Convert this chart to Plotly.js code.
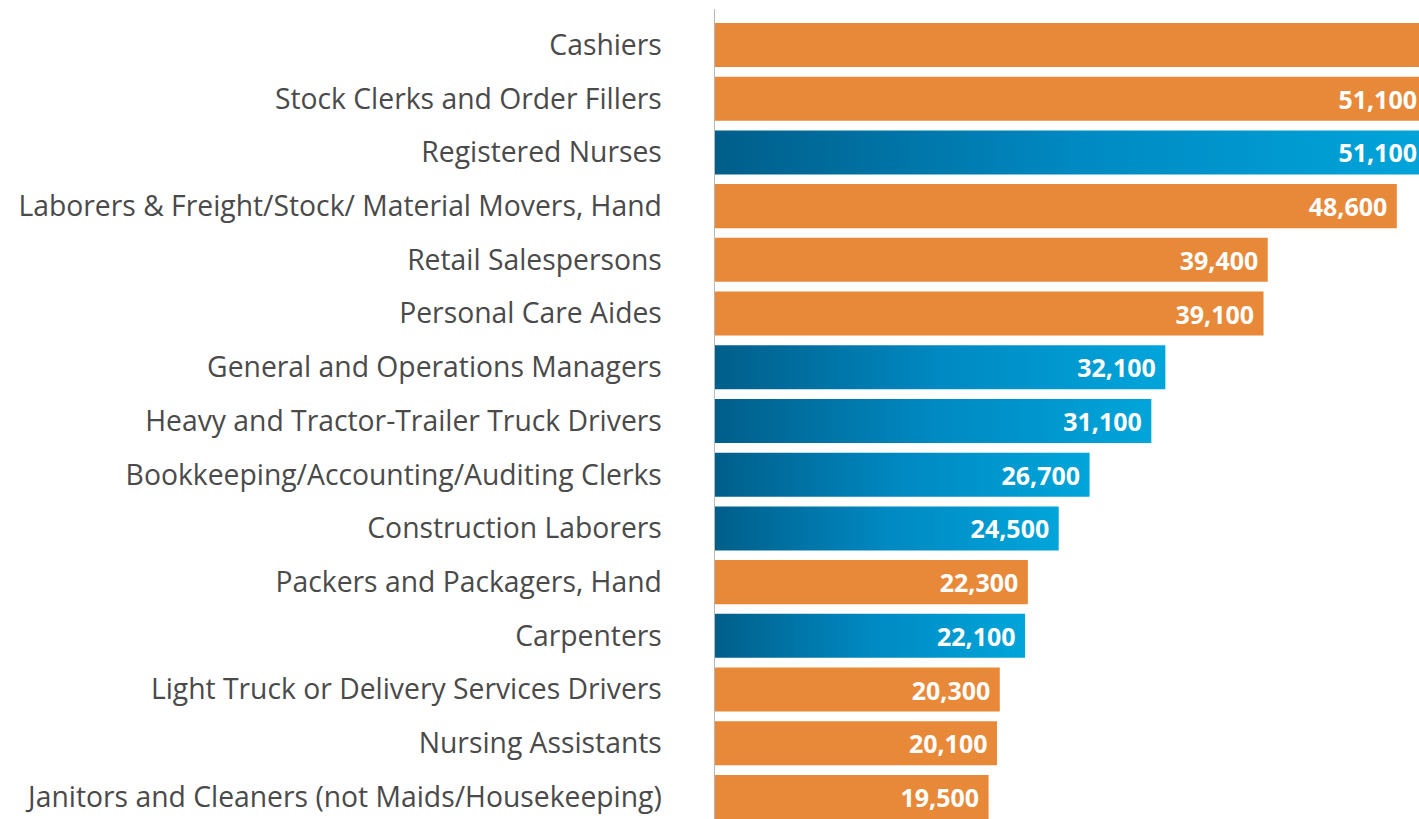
<!DOCTYPE html>
<html>
<head>
<meta charset="utf-8">
<script src="https://cdn.plot.ly/plotly-3.0.1.min.js"></script>
<style>html,body{margin:0;padding:0;background:#fff;}#chart{width:1419px;height:819px;}</style>
</head>
<body>
<div id="chart"></div>
<script>
const categories = [
  "Cashiers",
  "Stock Clerks and Order Fillers",
  "Registered Nurses",
  "Laborers & Freight/Stock/ Material Movers, Hand",
  "Retail Salespersons",
  "Personal Care Aides",
  "General and Operations Managers",
  "Heavy and Tractor-Trailer Truck Drivers",
  "Bookkeeping/Accounting/Auditing Clerks",
  "Construction Laborers",
  "Packers and Packagers, Hand",
  "Carpenters",
  "Light Truck or Delivery Services Drivers",
  "Nursing Assistants",
  "Janitors and Cleaners (not Maids/Housekeeping)"
];
const openings = [61000, 51100, 51100, 48600, 39400, 39100, 32100, 31100, 26700, 24500, 22300, 22100, 20300, 20100, 19500];
const group = ["orange","orange","blue","orange","orange","orange","blue","blue","blue","blue","orange","blue","orange","orange","orange"];
// the reference shows no value label for the first (clipped) bar
const showLabel = [false, true, true, true, true, true, true, true, true, true, true, true, true, true, true];

const X_MAX = 50180;
const ORANGE = "#E8893A";
const BLUE = "#0083BB";
const colors = group.map(g => g === "blue" ? BLUE : ORANGE);
const labels = openings.map((v, i) => {
  if (!showLabel[i]) return "";
  return v.toLocaleString("en-US") + (v > X_MAX ? "" : "\u00a0");
});

const trace = {
  type: "bar",
  orientation: "h",
  y: categories,
  x: openings,
  marker: { color: colors, line: { width: 0 } },
  width: 0.82,
  text: labels,
  textposition: "inside",
  insidetextanchor: "end",
  textangle: 0,
  constraintext: "none",
  textfont: { family: "Open Sans, sans-serif", size: 25, color: "#ffffff", weight: 700 },
  cliponaxis: true,
  hoverinfo: "none"
};

const layout = {
  width: 1419,
  height: 819,
  margin: { l: 715, r: 0, t: 9, b: 0 },
  paper_bgcolor: "#ffffff",
  plot_bgcolor: "#ffffff",
  showlegend: false,
  xaxis: {
    range: [0, X_MAX],
    showgrid: false,
    zeroline: false,
    showticklabels: false,
    ticks: "",
    showline: false
  },
  yaxis: {
    type: "category",
    categoryorder: "array",
    categoryarray: categories,
    range: [14.41, -0.67],
    showgrid: false,
    zeroline: false,
    showline: true,
    linecolor: "#b8b8b8",
    linewidth: 1.5,
    ticks: "",
    ticklabelstandoff: 46,
    tickfont: { family: "Open Sans, sans-serif", size: 28.3, color: "#4a4a4a" }
  }
};

Plotly.newPlot("chart", [trace], layout, { staticPlot: true }).then(gd => {
  const svg = gd.querySelector(".main-svg");
  const ns = "http://www.w3.org/2000/svg";
  let defs = svg.querySelector("defs");
  if (!defs) { defs = document.createElementNS(ns, "defs"); svg.insertBefore(defs, svg.firstChild); }
  const grad = document.createElementNS(ns, "linearGradient");
  grad.setAttribute("id", "blueGrad");
  grad.setAttribute("x1", "0"); grad.setAttribute("y1", "0");
  grad.setAttribute("x2", "1"); grad.setAttribute("y2", "0");
  [["0", "#005E8A"], ["0.5", "#0089C2"], ["1", "#00A5DA"]].forEach(([o, c]) => {
    const s = document.createElementNS(ns, "stop");
    s.setAttribute("offset", o); s.setAttribute("stop-color", c);
    grad.appendChild(s);
  });
  defs.appendChild(grad);
  const paths = gd.querySelectorAll(".trace.bars .point path");
  paths.forEach((p, i) => {
    if (group[i] === "blue") p.style.fill = "url(#blueGrad)";
  });
  // keep value labels of bars that run past the plot edge inside the visible area
  const svgRight = svg.getBoundingClientRect().right;
  gd.querySelectorAll(".trace.bars .point text").forEach(t => {
    const r = t.getBoundingClientRect();
    if (r.width > 0 && r.right > svgRight - 2) {
      t.setAttribute("dx", String((svgRight - 2) - r.right));
    }
  });
});
</script>
</body>
</html>
